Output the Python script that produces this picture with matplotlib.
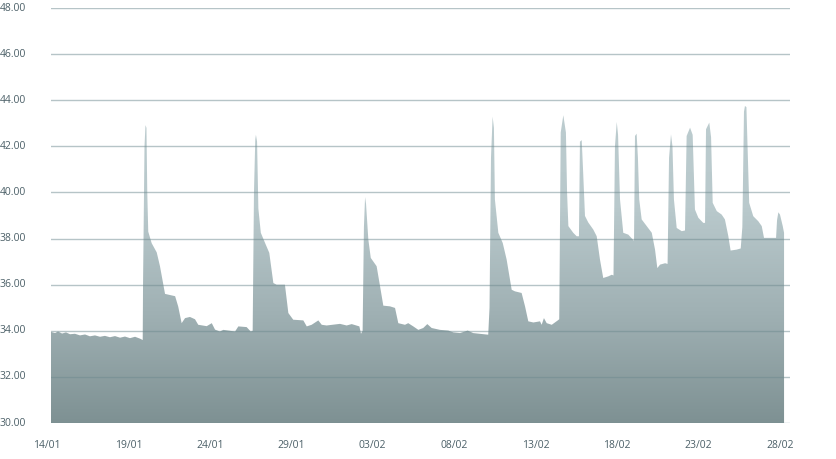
import numpy as np
import matplotlib
matplotlib.use('Agg')
import matplotlib.pyplot as plt
from matplotlib.colors import LinearSegmentedColormap
from matplotlib.transforms import blended_transform_factory

# Data: time in days after the first sample (14/01), price level
days = [0.00, 0.25, 0.43, 0.68, 0.92, 1.17, 1.47, 1.78, 2.09, 2.39, 2.70, 3.01, 3.31,
        3.62, 3.93, 4.24, 4.54, 4.85, 5.16, 5.46, 5.63,
        5.65, 5.74, 5.80, 5.86, 5.91, 5.97, 6.18, 6.49, 6.69, 7.00, 7.31, 7.62, 7.81,
        8.02, 8.23, 8.53, 8.84, 9.04, 9.56, 9.87, 10.07, 10.37, 10.58, 10.99, 11.30,
        11.50, 12.01, 12.26, 12.38,
        12.46, 12.54, 12.58, 12.65, 12.73, 12.88, 13.14, 13.40, 13.65, 13.85, 14.36,
        14.57, 14.87, 15.49, 15.70, 16.00, 16.41, 16.62, 16.92, 17.74, 18.15, 18.46,
        18.93, 19.03,
        19.13, 19.21, 19.28, 19.34, 19.48, 19.63, 19.99, 20.20, 20.40, 20.81, 21.12,
        21.32, 21.73, 21.93, 22.24, 22.55, 22.85, 23.10, 23.37, 23.88, 24.39, 24.70,
        25.11, 25.58, 25.92, 26.44, 26.84,
        26.92, 27.01, 27.11, 27.19, 27.25, 27.46, 27.73, 27.97, 28.28, 28.48, 28.89,
        29.10, 29.30, 29.61, 30.02, 30.12, 30.26, 30.43, 30.74, 31.11,
        31.20, 31.29, 31.45, 31.61, 31.68, 31.76, 32.06, 32.27, 32.41,
        32.47, 32.58, 32.66, 32.78, 32.98, 33.29, 33.50, 33.70, 33.90, 34.21, 34.42, 34.53,
        34.62, 34.73, 34.81, 34.93, 35.13, 35.44, 35.71, 35.79,
        35.85, 35.95, 36.03, 36.11, 36.26, 36.57, 36.88, 37.08, 37.22, 37.39, 37.70, 37.85,
        37.94, 38.06, 38.15, 38.24, 38.41, 38.72, 38.92,
        39.02, 39.23, 39.39, 39.53, 39.74, 40.04, 40.15,
        40.21, 40.41, 40.52, 40.62, 40.87, 41.17, 41.37, 41.58, 41.72, 42.09, 42.34, 42.44,
        42.54, 42.60, 42.69, 42.78, 42.86, 43.11, 43.42, 43.63, 43.77, 44.51, 44.57,
        44.65, 44.75, 44.92, 45.00]

prices = [33.95, 33.90, 33.97, 33.88, 33.93, 33.85, 33.87, 33.80, 33.84, 33.76, 33.80, 33.74, 33.78,
          33.72, 33.77, 33.70, 33.75, 33.68, 33.74, 33.66, 33.60,
          36.00, 42.00, 42.92, 42.80, 40.00, 38.30, 37.80, 37.40, 36.80, 35.60, 35.55, 35.50, 35.05,
          34.33, 34.55, 34.60, 34.50, 34.26, 34.20, 34.33, 34.05, 33.97, 34.04, 34.00, 33.97,
          34.19, 34.16, 33.97, 34.00,
          40.00, 42.30, 42.50, 42.20, 39.30, 38.25, 37.81, 37.38, 36.07, 36.00, 36.00,
          34.77, 34.48, 34.45, 34.19, 34.26, 34.45, 34.26, 34.23, 34.30, 34.23, 34.29,
          34.19, 33.87,
          34.00, 38.50, 39.80, 39.50, 37.96, 37.16, 36.80, 35.93, 35.09, 35.06, 34.99,
          34.33, 34.26, 34.33, 34.19, 34.04, 34.12, 34.29, 34.12, 34.04, 34.01, 33.93,
          33.90, 34.01, 33.90, 33.86, 33.83,
          35.00, 41.50, 43.29, 42.80, 39.70, 38.25, 37.81, 37.09, 35.78, 35.71, 35.64,
          35.06, 34.41, 34.36, 34.41, 34.26, 34.55, 34.33, 34.26, 34.45,
          34.50, 42.60, 43.35, 42.60, 40.00, 38.54, 38.25, 38.10, 38.10,
          42.20, 42.27, 41.00, 38.98, 38.70, 38.39, 38.10, 37.09, 36.29, 36.36, 36.43, 36.40,
          42.00, 43.06, 42.50, 39.70, 38.25, 38.17, 37.96, 37.90,
          42.45, 42.55, 41.50, 39.70, 38.83, 38.54, 38.25, 37.52, 36.72, 36.87, 36.93, 36.90,
          41.50, 42.52, 42.00, 39.70, 38.46, 38.32, 38.35,
          42.45, 42.81, 42.50, 39.26, 38.90, 38.68, 38.68,
          42.74, 43.03, 42.40, 39.55, 39.19, 39.04, 38.83, 38.10, 37.48, 37.52, 37.57, 38.50,
          43.50, 43.75, 43.70, 41.50, 39.55, 38.97, 38.75, 38.54, 38.03, 38.03, 38.80,
          39.14, 39.04, 38.54, 38.25]

tick_days = [0, 5, 10, 15, 20, 25, 30, 35, 40, 45]
tick_labels = ['14/01', '19/01', '24/01', '29/01', '03/02', '08/02', '13/02', '18/02', '23/02', '28/02']
y_ticks = [30, 32, 34, 36, 38, 40, 42, 44, 46, 48]

# first sample is a few hours after midnight
t = np.array(days) + 0.25
p = np.array(prices)

W, H = 836, 459
fig = plt.figure(figsize=(W / 100, H / 100), dpi=100)
ax = fig.add_axes([51 / W, 1 - 423 / H, (790 - 51) / W, (423 - 8) / H])

# gradient filled area
poly = ax.fill_between(t, 30, p, color='none', lw=0)
cmap = LinearSegmentedColormap.from_list('area', ['#7e9193', '#9fb0b3', '#b9c9cc', '#bccccf'])
grad = np.linspace(0, 1, 256).reshape(-1, 1)
img = ax.imshow(grad, extent=[t[0], t[-1], 30, 44], origin='lower', aspect='auto',
                cmap=cmap, zorder=1, interpolation='bilinear')
img.set_clip_path(poly.get_paths()[0], transform=ax.transData)

# horizontal grid lines drawn over the area
for yv in y_ticks:
    ax.axhline(yv, color='#6f8b90', alpha=0.5, lw=1, zorder=3)

for s in ax.spines.values():
    s.set_visible(False)
ax.set_xticks([])
ax.set_yticks([])

ax.set_xlim(t[0], t[0] + (790 - 51) / 16.29)
ax.set_ylim(30, 48)

# x labels (first one sits just left of the first sample)
xtrans = blended_transform_factory(ax.transData, ax.transAxes)
for d, lab in zip(tick_days, tick_labels):
    ax.text(d, -23 / 415, lab, transform=xtrans, ha='center', va='center', clip_on=False,
            fontsize=7.5, color='#4c6068', fontfamily='Open Sans')

# y labels start at the very left of the figure
ytrans = blended_transform_factory(fig.transFigure, ax.transData)
for yv in y_ticks:
    ax.text(0.0, yv, f'{yv:.2f}', transform=ytrans, ha='left', va='center',
            fontsize=7.5, color='#4c6068', fontfamily='Open Sans')

fig.savefig('out.png', dpi=100)
